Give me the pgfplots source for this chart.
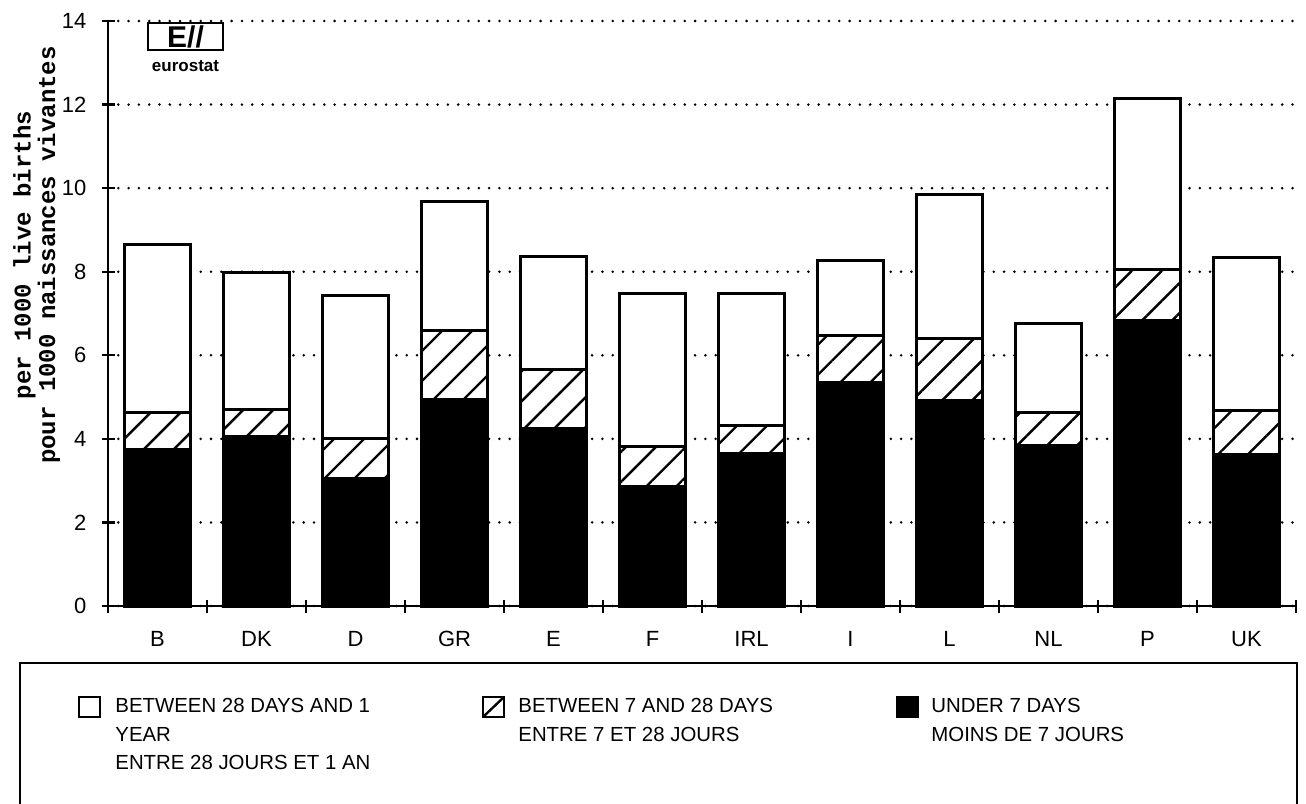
\documentclass[border=0pt]{standalone}
\usepackage{fontspec}
\setmainfont{Liberation Sans}
\newfontfamily\ylabfont{Liberation Mono}
\usepackage{pgfplots}
\pgfplotsset{compat=1.18}
\usepackage{pgfplotstable}
\usetikzlibrary{patterns.meta}

\pgfplotstableread{
cat  u7    b728  b28
B    3.75  0.87  4.03
DK   4.05  0.65  3.28
D    3.05  0.96  3.41
GR   4.95  1.65  3.09
E    4.25  1.40  2.71
F    2.85  0.96  3.66
IRL  3.65  0.67  3.15
I    5.35  1.13  1.78
L    4.93  1.47  3.45
NL   3.83  0.80  2.12
P    6.83  1.23  4.08
UK   3.63  1.06  3.65
}\mortality

\tikzset{hatch/.style={pattern={Lines[angle=45,distance=10.6pt,line width=1.2pt]}}}

\begin{document}
\begin{tikzpicture}
\path[use as bounding box] (0,0) rectangle (653pt,-401.5pt);
\begin{axis}[
  at={(54pt,-303pt)}, anchor=south west,
  scale only axis, width=594pt, height=292.5pt,
  xmin=-0.5, xmax=11.5, ymin=0, ymax=14,
  axis x line=bottom, axis y line=left,
  axis line style={line width=1.2pt, -},
  xtick={-0.5,0.5,...,11.5},
  xticklabels={},
  extra x ticks={0,...,11},
  extra x tick labels={B,DK,D,GR,E,F,IRL,I,L,NL,P,UK},
  extra x tick style={major tick length=0pt, grid=none},
  xticklabel style={yshift=-9pt},
  ytick={0,2,...,14},
  tick align=center,
  major tick length=6.5pt,
  every tick/.style={black, line width=1.2pt},
  ymajorgrids,
  major grid style={black, line width=1.4pt, dash pattern=on 0pt off 5.15pt, line cap=round},
  /pgf/number format/assume math mode=true,
  tick label style={font=\fontsize{11}{12}\selectfont},
  yticklabel style={xshift=-4pt},
  ylabel={per 1000 live births\\pour 1000 naissances vivantes},
  ylabel style={font=\ylabfont\bfseries\fontsize{12}{9}\selectfont, align=center, at={(axis description cs:-0.06,0.6)}, anchor=center},
  ybar stacked, bar width=0.66,
  clip=false,
]
\addplot[fill=black, draw=black, line width=1.5pt] table[x expr=\coordindex, y=u7] {\mortality};
\addplot[draw=black, line width=1.5pt, preaction={fill=white}, hatch] table[x expr=\coordindex, y=b728] {\mortality};
\addplot[fill=white, draw=black, line width=1.5pt] table[x expr=\coordindex, y=b28] {\mortality};
\end{axis}
\begin{scope}[x=0.5pt,y=-0.5pt]
  % eurostat logo
  \draw[line width=1.4pt, fill=white] (148,23) rectangle (223,50);
  \node[font=\bfseries\fontsize{15}{15}\selectfont, inner sep=0] at (185.5,37) {E//};
  \node[font=\bfseries\fontsize{8.5}{9}\selectfont, inner sep=0] at (185.5,66) {eurostat};
  % legend box
  \draw[line width=1.4pt] (20,810) -- (20,663) -- (1297,663) -- (1297,810);
  \draw[line width=1.2pt, fill=white] (79,697) rectangle (100,717);
  \draw[line width=1.2pt, fill=white] (483,697) rectangle (504,717);
  \draw[line width=1.2pt] (483,717) -- (504,697);
  \draw[line width=1.2pt, fill=black] (897,697) rectangle (918,717);
  \begin{scope}[every node/.style={anchor=base west, inner sep=0, font=\fontsize{10.2}{12}\selectfont}]
    \node at (115,712.5) {BETWEEN 28 DAYS AND 1};
    \node at (115,741) {YEAR};
    \node at (115,769.5) {ENTRE 28 JOURS ET 1 AN};
    \node at (518,712.5) {BETWEEN 7 AND 28 DAYS};
    \node at (518,741) {ENTRE 7 ET 28 JOURS};
    \node at (931,712.5) {UNDER 7 DAYS};
    \node at (931,741) {MOINS DE 7 JOURS};
  \end{scope}
\end{scope}
\end{tikzpicture}
\end{document}
